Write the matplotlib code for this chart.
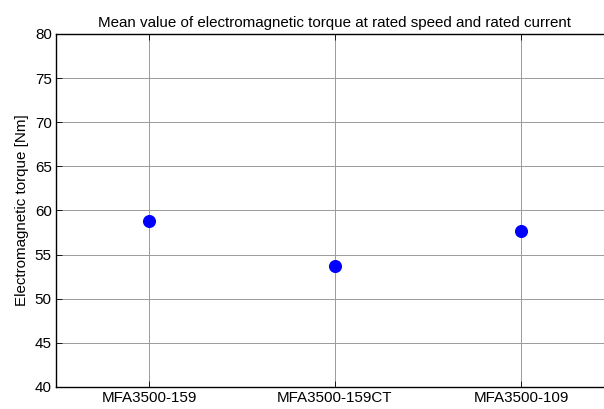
import matplotlib.pyplot as plt

# Mean torque per motor variant
motors = ['MFA3500-159', 'MFA3500-159CT', 'MFA3500-109']
torque = [58.8, 53.7, 57.7]
yticks = [40, 45, 50, 55, 60, 65, 70, 75, 80]

plt.rcParams['font.family'] = ['Liberation Sans', 'DejaVu Sans']
plt.rcParams['font.size'] = 10.9

fig = plt.figure(figsize=(6.04, 4.09), dpi=100)
ax = fig.add_axes([56 / 604, 22 / 409, 558 / 604, 353 / 409])

x = list(range(1, len(motors) + 1))
ax.plot(x, torque, 'o', color='blue', markersize=8.4, zorder=3)

ax.set_xlim(0.5, 3.5)
ax.set_ylim(40, 80)
ax.set_xticks(x)
ax.set_xticklabels(motors)
ax.set_yticks(yticks)

ax.grid(True, color='#9a9a9a', linewidth=0.7)
ax.tick_params(direction='in', length=4, width=0.6, top=True, right=True, pad=3)
for s in ax.spines.values():
    s.set_linewidth(1.0)

ax.set_ylabel('Electromagnetic torque [Nm]', labelpad=4)
ax.set_title('Mean value of electromagnetic torque at rated speed and rated current',
             fontsize=10.9, pad=5)

fig.savefig('out.png', dpi=100)
